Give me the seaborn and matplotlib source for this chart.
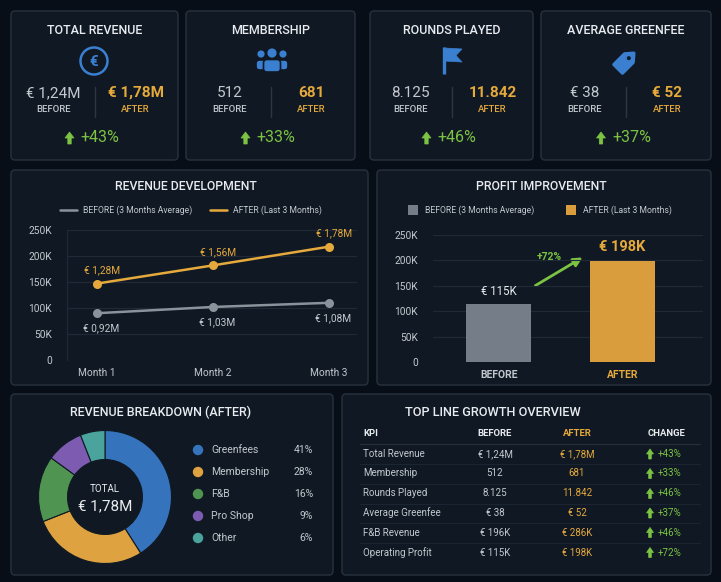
import matplotlib
matplotlib.use("Agg")
import matplotlib.pyplot as plt
import seaborn as sns
import pandas as pd
import numpy as np
from matplotlib.patches import FancyBboxPatch, Circle, Polygon, FancyArrowPatch

# ---------------- data ----------------
kpi_titles = ["TOTAL REVENUE", "MEMBERSHIP", "ROUNDS PLAYED", "AVERAGE GREENFEE"]
kpi_before = ["€ 1,24M", "512", "8.125", "€ 38"]
kpi_after = ["€ 1,78M", "681", "11.842", "€ 52"]
kpi_change = ["+43%", "+33%", "+46%", "+37%"]

months = ["Month 1", "Month 2", "Month 3"]
rev_before = [90000, 102000, 110000]
rev_after = [147000, 182000, 218000]
rev_before_labels = ["€ 0,92M", "€ 1,03M", "€ 1,08M"]
rev_after_labels = ["€ 1,28M", "€ 1,56M", "€ 1,78M"]
y_ticks = [0, 50000, 100000, 150000, 200000, 250000]
y_tick_labels = ["0", "50K", "100K", "150K", "200K", "250K"]

profit_cats = ["BEFORE", "AFTER"]
profit_values = [115000, 198000]
profit_labels = ["€ 115K", "€ 198K"]
profit_change = "+72%"

mix_cats = ["Greenfees", "Membership", "F&B", "Pro Shop", "Other"]
mix_share = [41, 28, 16, 9, 6]
mix_total = "€ 1,78M"

tbl_kpis = ["Total Revenue", "Membership", "Rounds Played", "Average Greenfee",
            "F&B Revenue", "Operating Profit"]
tbl_before = ["€ 1,24M", "512", "8.125", "€ 38", "€ 196K", "€ 115K"]
tbl_after = ["€ 1,78M", "681", "11.842", "€ 52", "€ 286K", "€ 198K"]
tbl_change = ["+43%", "+33%", "+46%", "+37%", "+46%", "+72%"]

# ---------------- style ----------------
PAGE = "#080e17"
CARD = "#101923"
BORDER = "#28323f"
WHITE = "#e8ebef"
LGRAY = "#c3c8cf"
ORANGE = "#e6a93c"
ORANGE_BAR = "#d99d3e"
GRAY_LINE = "#8a929c"
GRAY_BAR = "#747d88"
GREEN = "#7cc243"
BLUE = "#3a7fd0"
GRID = "#1f2a36"
mix_colors = ["#3573bd", "#dea340", "#4f9450", "#7c5bb0", "#4aa39d"]

sns.set_theme(style="dark")
plt.rcParams["font.family"] = ["Roboto", "DejaVu Sans"]

W, H = 721, 582
fig = plt.figure(figsize=(W / 100, H / 100), dpi=100)
fig.patch.set_facecolor(PAGE)

bg = fig.add_axes([0, 0, 1, 1])
bg.set_xlim(0, W)
bg.set_ylim(H, 0)
bg.axis("off")
bg.set_zorder(0)


def card(x0, y0, x1, y1):
    bg.add_patch(FancyBboxPatch((x0, y0), x1 - x0, y1 - y0,
                                boxstyle="round,pad=0,rounding_size=4",
                                fc=CARD, ec=BORDER, lw=1.0))


def txt(x, y, s, size=8, color=WHITE, ha="center", weight="normal", **kw):
    bg.text(x, y, s, fontsize=size, color=color, ha=ha, va="center",
            fontweight=weight, **kw)


def up_arrow(x, yc, h, color, hw=9, sw=3.4, hl=6):
    top = yc - h / 2
    bot = yc + h / 2
    pts = [(x, top), (x + hw / 2, top + hl), (x + sw / 2, top + hl),
           (x + sw / 2, bot), (x - sw / 2, bot), (x - sw / 2, top + hl),
           (x - hw / 2, top + hl)]
    bg.add_patch(Polygon(pts, closed=True, fc=color, ec=color, lw=0.5))


# ---------------- KPI cards ----------------
cards = [(11, 178), (186, 355), (370, 533), (541, 711)]
for i, (x0, x1) in enumerate(cards):
    card(x0, 11, x1, 160)
    cx = (x0 + x1) / 2
    txt(cx, 31, kpi_titles[i], size=9, weight="medium")
    txt(cx - 41, 93, kpi_before[i], size=11, color=LGRAY)
    txt(cx + 41, 93, kpi_after[i], size=11, color=ORANGE, weight="bold")
    txt(cx - 41, 109, "BEFORE", size=6.8, color=LGRAY, weight="medium")
    txt(cx + 41, 109, "AFTER", size=6.8, color=ORANGE, weight="medium")
    bg.plot([cx, cx], [87, 117], color="#2c3744", lw=1)
    up_arrow(cx - 25, 138, 12, GREEN)
    txt(cx - 14, 138, kpi_change[i], size=11.5, color=GREEN, ha="left")

# icon 1: euro
bg.add_patch(Circle((94, 61), 13.5, fc="none", ec=BLUE, lw=1.8))
txt(94, 61.5, "€", size=11, color=BLUE, weight="bold")
# icon 2: people
for hx, hy, r in [(261, 54, 3.6), (283, 54, 3.6), (272, 53, 4.6)]:
    bg.add_patch(Circle((hx, hy), r, fc=BLUE, ec="none"))
for bx, by, bw, bh in [(256, 60, 10, 10), (278, 60, 10, 10), (263.5, 59.5, 17, 12.5)]:
    bg.add_patch(FancyBboxPatch((bx, by), bw, bh,
                                boxstyle="round,pad=0,rounding_size=3.5",
                                fc=BLUE, ec=CARD, lw=1.2))
# icon 3: flag
bg.plot([444, 444], [47, 74], color=BLUE, lw=2.4, solid_capstyle="butt")
bg.add_patch(Polygon([(444, 48), (462, 49), (456, 55.5), (462, 62), (444, 61)],
                     closed=True, fc=BLUE, ec=BLUE, lw=0.5))
# icon 4: tag
c = 0.7071
tcx, tcy = 626, 61
loc = [(-11, -6), (4, -6), (11, 0), (4, 6), (-11, 6)]
tag_pts = [(tcx + u * c + v * c, tcy - u * c + v * c) for u, v in loc]
bg.add_patch(Polygon(tag_pts, closed=True, fc=BLUE, ec=BLUE, lw=2.5, joinstyle="round"))
bg.add_patch(Circle((tcx + 4 * c, tcy - 4 * c), 2.0, fc=CARD, ec="none"))

# ---------------- revenue development ----------------
card(11, 170, 368, 385)
txt(186, 187, "REVENUE DEVELOPMENT", size=8.8, weight="medium")
bg.plot([60, 77], [210, 210], color=GRAY_LINE, lw=1.8)
txt(83, 210, "BEFORE (3 Months Average)", size=6.2, color=LGRAY, ha="left")
bg.plot([210, 227], [210, 210], color=ORANGE, lw=1.8)
txt(233, 210, "AFTER (Last 3 Months)", size=6.2, color=LGRAY, ha="left")

ax1 = fig.add_axes([67 / W, 1 - 360 / H, 290 / W, 130 / H])
ax1.set_facecolor("none")
ax1.set_zorder(2)
df_line = pd.DataFrame({
    "month": list(range(len(months))) * 2,
    "revenue": rev_before + rev_after,
    "series": ["BEFORE"] * len(months) + ["AFTER"] * len(months),
})
sns.lineplot(data=df_line, x="month", y="revenue", hue="series",
             palette={"BEFORE": GRAY_LINE, "AFTER": ORANGE},
             marker="o", markersize=6.5, markeredgewidth=0, linewidth=1.8,
             legend=False, ax=ax1)
ax1.set_xlim(-0.26, 2.24)
ax1.set_ylim(0, 250000)
ax1.set_yticks(y_ticks)
ax1.set_yticklabels(y_tick_labels)
ax1.set_xticks(range(len(months)))
ax1.set_xticklabels(months)
ax1.set_xlabel("")
ax1.set_ylabel("")
ax1.tick_params(axis="y", colors=LGRAY, labelsize=7.3, pad=11, length=0)
ax1.tick_params(axis="x", colors=LGRAY, labelsize=7.3, pad=6, length=0)
ax1.grid(axis="y", color=GRID, lw=0.8)
ax1.grid(axis="x", visible=False)
for s in ["top", "right", "bottom"]:
    ax1.spines[s].set_visible(False)
ax1.spines["left"].set_color(GRID)
ax1.spines["left"].set_linewidth(0.8)
for i in range(len(months)):
    ax1.annotate(rev_after_labels[i], (i, rev_after[i]), xytext=(5, 13),
                 textcoords="offset pixels", ha="center", va="center",
                 fontsize=7.3, color=ORANGE, annotation_clip=False)
    ax1.annotate(rev_before_labels[i], (i, rev_before[i]), xytext=(4, -15),
                 textcoords="offset pixels", ha="center", va="center",
                 fontsize=7.3, color=LGRAY, annotation_clip=False)

# ---------------- profit improvement ----------------
card(377, 170, 711, 385)
txt(541, 187, "PROFIT IMPROVEMENT", size=8.8, weight="medium")
bg.add_patch(FancyBboxPatch((408, 205), 10, 10, boxstyle="square,pad=0", fc=GRAY_BAR, ec="none"))
txt(425, 210, "BEFORE (3 Months Average)", size=6.2, color=LGRAY, ha="left")
bg.add_patch(FancyBboxPatch((566, 205), 10, 10, boxstyle="square,pad=0", fc=ORANGE_BAR, ec="none"))
txt(583, 210, "AFTER (Last 3 Months)", size=6.2, color=LGRAY, ha="left")

ax2 = fig.add_axes([433 / W, 1 - 362 / H, 270 / W, 127 / H])
ax2.set_facecolor("none")
ax2.set_zorder(2)
df_bar = pd.DataFrame({"period": profit_cats, "profit": profit_values})
sns.barplot(data=df_bar, x="period", y="profit", hue="period",
            palette=[GRAY_BAR, ORANGE_BAR], width=0.52, saturation=1,
            edgecolor="none", linewidth=0, legend=False, ax=ax2)
ax2.set_xlim(-0.53, 1.65)
ax2.set_ylim(0, 250000)
ax2.set_yticks(y_ticks)
ax2.set_yticklabels(y_tick_labels)
ax2.set_xlabel("")
ax2.set_ylabel("")
ax2.tick_params(axis="y", colors=LGRAY, labelsize=7.3, pad=11, length=0)
ax2.tick_params(axis="x", labelsize=7.5, pad=6, length=0)
for lab, col in zip(ax2.get_xticklabels(), [LGRAY, ORANGE]):
    lab.set_color(col)
    lab.set_fontweight("bold")
ax2.grid(axis="y", color=GRID, lw=0.8)
ax2.grid(axis="x", visible=False)
ax2.set_axisbelow(True)
for s in ["top", "right", "bottom", "left"]:
    ax2.spines[s].set_visible(False)
ax2.annotate(profit_labels[0], (0, profit_values[0]), xytext=(0, 12),
             textcoords="offset pixels", ha="center", va="center",
             fontsize=8.3, color=WHITE)
ax2.annotate(profit_labels[1], (1, profit_values[1]), xytext=(0, 14),
             textcoords="offset pixels", ha="center", va="center",
             fontsize=10.5, color=ORANGE, fontweight="bold")
bg.add_patch(FancyArrowPatch((533, 287), (585, 256), arrowstyle="-|>",
                             mutation_scale=13, lw=2, color=GREEN, zorder=5))
txt(549, 257, profit_change, size=7.5, color=GREEN, weight="bold")

# ---------------- revenue breakdown ----------------
card(11, 394, 333, 575)
txt(161, 412, "REVENUE BREAKDOWN (AFTER)", size=9, weight="medium")
ax3 = fig.add_axes([(105 - 70) / W, 1 - (497 + 70) / H, 140 / W, 140 / H])
ax3.set_zorder(2)
ax3.pie(mix_share, colors=mix_colors, startangle=90, counterclock=False,
        radius=0.95, wedgeprops=dict(width=0.95 - 0.535, edgecolor=CARD, linewidth=0.8))
ax3.set_xlim(-1, 1)
ax3.set_ylim(-1, 1)
ax3.axis("off")
txt(105, 489, "TOTAL", size=7, color=WHITE)
txt(105, 506, mix_total, size=11, color=WHITE)
legend_y = [450, 472, 494, 516, 538]
for i, cat in enumerate(mix_cats):
    bg.add_patch(Circle((198, legend_y[i]), 5.2, fc=mix_colors[i], ec="none"))
    txt(211, legend_y[i], cat, size=7.5, color=LGRAY, ha="left")
    txt(313, legend_y[i], f"{mix_share[i]}%", size=7.5, color=LGRAY, ha="right")

# ---------------- table ----------------
card(342, 394, 711, 575)
txt(493, 412, "TOP LINE GROWTH OVERVIEW", size=9.2, weight="medium")
hy = 433
txt(363, hy, "KPI", size=6.8, color=WHITE, ha="left", weight="bold")
txt(495, hy, "BEFORE", size=6.8, color=WHITE, weight="bold")
txt(577, hy, "AFTER", size=6.8, color=ORANGE, weight="bold")
txt(666, hy, "CHANGE", size=6.8, color=WHITE, weight="bold")
bg.plot([360, 700], [444, 444], color="#26313d", lw=0.8)
row_y = [454, 473.5, 493.5, 513, 532.5, 552.5]
for i in range(len(tbl_kpis)):
    y = row_y[i]
    txt(363, y, tbl_kpis[i], size=7, color=LGRAY, ha="left")
    txt(495, y, tbl_before[i], size=7, color=LGRAY)
    txt(577, y, tbl_after[i], size=7, color=ORANGE)
    up_arrow(650, y, 10, GREEN, hw=7, sw=2.6, hl=5)
    txt(658, y, tbl_change[i], size=7, color=GREEN, ha="left")
    if i < len(tbl_kpis) - 1:
        bg.plot([360, 700], [y + 10, y + 10], color="#1c2632", lw=0.7)

fig.savefig("out.png", dpi=100, facecolor=PAGE)
